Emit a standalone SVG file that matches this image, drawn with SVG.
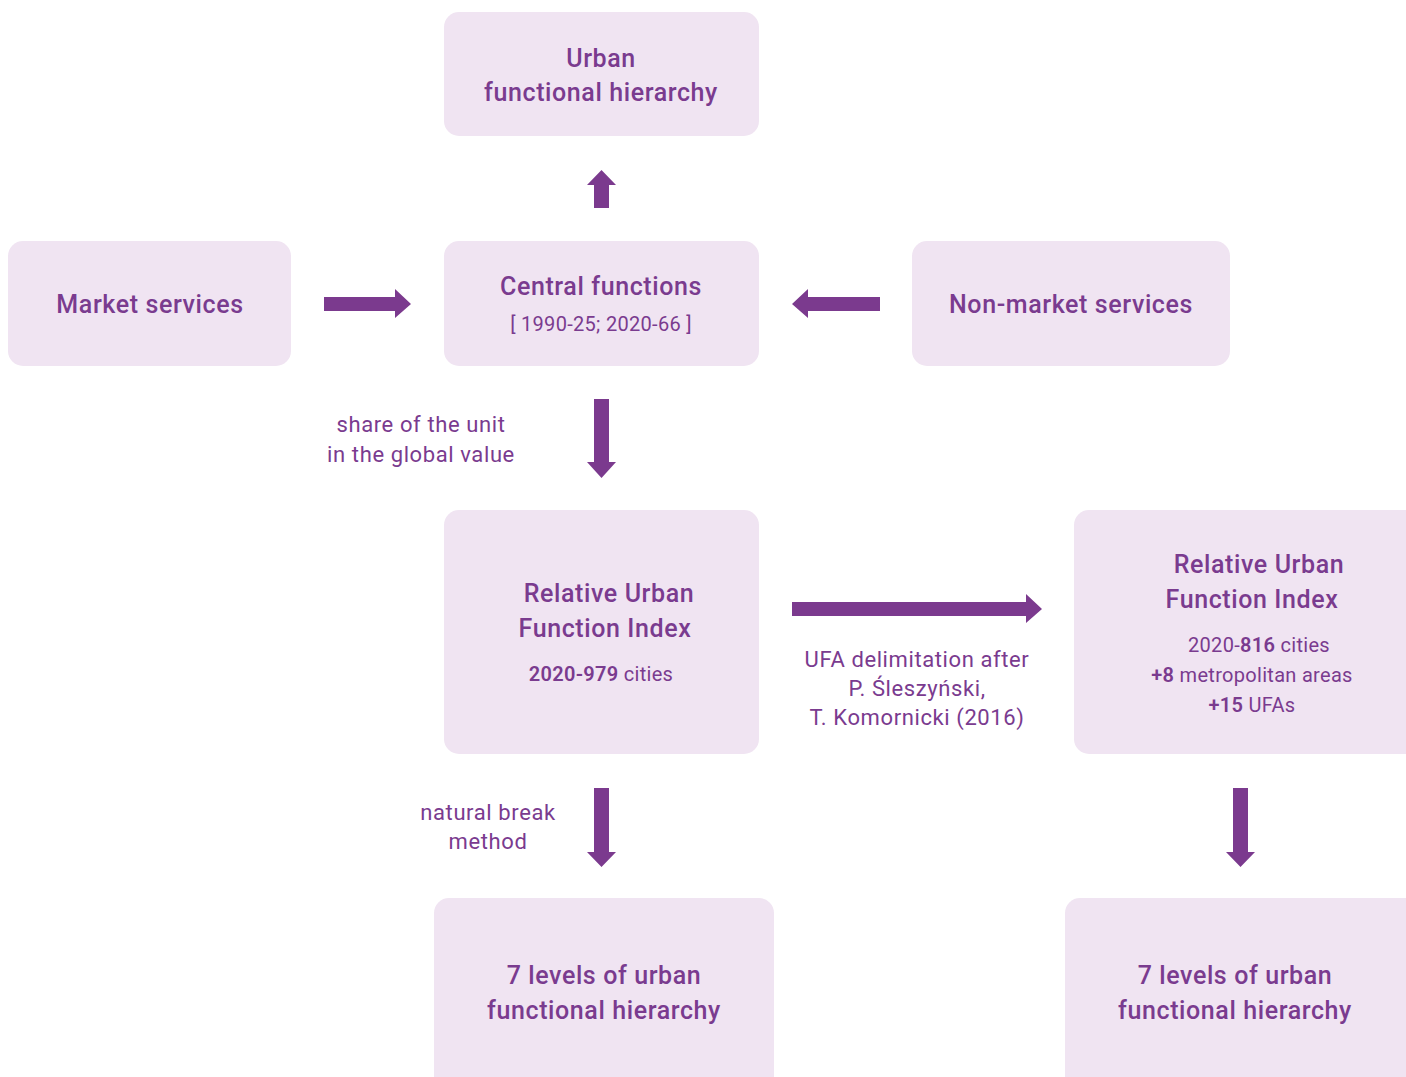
<svg xmlns="http://www.w3.org/2000/svg" width="1406" height="1077" viewBox="0 0 1406 1077">
<style>
.box{fill:#F0E4F2}
.t{font-family:Roboto,"Liberation Sans",sans-serif;fill:#7A3B8F;text-anchor:middle}
.h{font-size:25px;font-weight:500;letter-spacing:0.6px}
.s{font-size:20px;font-weight:400;letter-spacing:0.3px}
.l{font-size:22px;font-weight:400;letter-spacing:0.6px}
.b{font-weight:600}
.arr{fill:#7B3A8E}
</style>
<rect width="1406" height="1077" fill="#fff"/>
<g id="urban">
<rect class="box" x="444" y="12" width="315" height="124" rx="15"/>
<text class="t h" x="601" y="67">Urban</text>
<text class="t h" x="601" y="101">functional hierarchy</text>
</g>
<g id="market">
<rect class="box" x="8" y="241" width="283" height="125" rx="15"/>
<text class="t h" x="150" y="313">Market services</text>
</g>
<g id="central">
<rect class="box" x="444" y="241" width="315" height="125" rx="15"/>
<text class="t h" x="601" y="295">Central functions</text>
<text class="t s" x="601" y="331">[ 1990-25; 2020-66 ]</text>
</g>
<g id="nonmarket">
<rect class="box" x="912" y="241" width="318" height="125" rx="15"/>
<text class="t h" x="1071" y="313">Non-market services</text>
</g>
<g id="rufi1">
<rect class="box" x="444" y="510" width="315" height="244" rx="15"/>
<text class="t h" x="609" y="602">Relative Urban</text>
<text class="t h" x="605" y="637">Function Index</text>
<text class="t s" x="601" y="681"><tspan class="b">2020-979</tspan> cities</text>
</g>
<g id="rufi2">
<rect class="box" x="1074" y="510" width="350" height="244" rx="15"/>
<text class="t h" x="1259" y="573">Relative Urban</text>
<text class="t h" x="1252" y="608">Function Index</text>
<text class="t s" x="1259" y="652">2020-<tspan class="b">816</tspan> cities</text>
<text class="t s" x="1252" y="682"><tspan class="b">+8</tspan> metropolitan areas</text>
<text class="t s" x="1252" y="712"><tspan class="b">+15</tspan> UFAs</text>
</g>
<g id="levels1">
<rect class="box" x="434" y="898" width="340" height="200" rx="15"/>
<text class="t h" x="604" y="984">7 levels of urban</text>
<text class="t h" x="604" y="1019">functional hierarchy</text>
</g>
<g id="levels2">
<rect class="box" x="1065" y="898" width="360" height="200" rx="15"/>
<text class="t h" x="1235" y="984">7 levels of urban</text>
<text class="t h" x="1235" y="1019">functional hierarchy</text>
</g>
<g id="connectors">
<polygon class="arr" points="594,208 609,208 609,185 616,185 601.5,170 587,185 594,185"/>
<polygon class="arr" points="324,297 395,297 395,289 411,304 395,318 395,311 324,311"/>
<polygon class="arr" points="880,297 808,297 808,289 792,304 808,318 808,311 880,311"/>
<polygon class="arr" points="594,399 609,399 609,462 616,462 601.5,478 587,462 594,462"/>
<polygon class="arr" points="792,602 1026,602 1026,594 1042,609 1026,623 1026,616 792,616"/>
<polygon class="arr" points="594,788 609,788 609,852 616,852 601.5,867 587,852 594,852"/>
<polygon class="arr" points="1233,788 1248,788 1248,852 1255,852 1240.5,867 1226,852 1233,852"/>
<text class="t l" x="421" y="432">share of the unit</text>
<text class="t l" x="421" y="462">in the global value</text>
<text class="t l" x="917" y="667">UFA delimitation after</text>
<text class="t l" x="917" y="696">P. Śleszyński,</text>
<text class="t l" x="917" y="725">T. Komornicki (2016)</text>
<text class="t l" x="488" y="820">natural break</text>
<text class="t l" x="488" y="849">method</text>
</g>
</svg>
